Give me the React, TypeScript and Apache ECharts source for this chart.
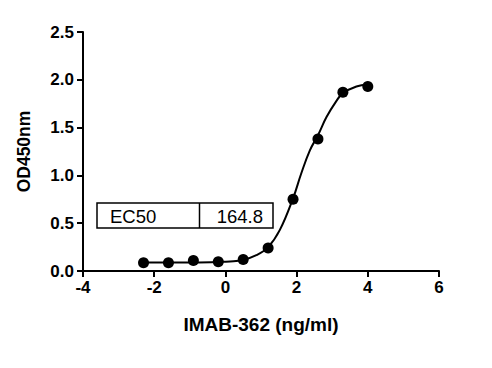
import React, { useEffect, useRef } from "react";
import * as echarts from "echarts";

const logConc = [-2.3, -1.6, -0.9, -0.2, 0.5, 1.2, 1.9, 2.6, 3.3, 4.0];
const odValues = [0.087, 0.087, 0.11, 0.097, 0.12, 0.24, 0.75, 1.38, 1.87, 1.93];

const curveX = [-2.3, -1.6, -0.9, -0.2, 0.13, 0.49, 0.87, 1.2, 1.53, 1.9, 2.13, 2.37, 2.6, 2.84, 3.12, 3.3, 3.68, 4.0];
const curveY = [0.088, 0.089, 0.09, 0.095, 0.1, 0.115, 0.165, 0.25, 0.43, 0.76, 1.02, 1.26, 1.42, 1.61, 1.78, 1.86, 1.93, 1.95];

const yTicks = ["0.0", "0.5", "1.0", "1.5", "2.0", "2.5"];
const ec50Label = "EC50";
const ec50Value = "164.8";

const FONT = "'Liberation Sans', Arial, sans-serif";

export default function App() {
  const ref = useRef<HTMLDivElement>(null);
  useEffect(() => {
    if (!ref.current) return;
    const chart = echarts.init(ref.current, null, { renderer: "svg" });
    chart.setOption({
      animation: false,
      backgroundColor: "#ffffff",
      grid: { left: 83, right: 53, top: 32, bottom: 97, containLabel: false },
      xAxis: {
        type: "value",
        min: -4,
        max: 6,
        interval: 2,
        name: "IMAB-362 (ng/ml)",
        nameLocation: "middle",
        nameGap: 44,
        nameTextStyle: { fontFamily: FONT, fontWeight: "bold", fontSize: 19, color: "#000" },
        axisLine: { onZero: false, lineStyle: { color: "#000", width: 2 } },
        axisTick: { show: true, length: 6, lineStyle: { color: "#000", width: 2 } },
        axisLabel: { fontFamily: FONT, fontWeight: "bold", fontSize: 17, color: "#000", margin: 8 },
        splitLine: { show: false },
      },
      yAxis: {
        type: "value",
        min: 0,
        max: 2.5,
        interval: 0.5,
        name: "OD450nm",
        nameLocation: "middle",
        nameGap: 50,
        nameTextStyle: { fontFamily: FONT, fontWeight: "bold", fontSize: 17.5, color: "#000" },
        axisLine: { show: true, onZero: false, lineStyle: { color: "#000", width: 2 } },
        axisTick: { show: true, length: 6, lineStyle: { color: "#000", width: 2 } },
        axisLabel: {
          fontFamily: FONT,
          fontWeight: "bold",
          fontSize: 17,
          color: "#000",
          margin: 9,
          formatter: (v: number) => yTicks[Math.round(v / 0.5)] ?? v.toFixed(1),
        },
        splitLine: { show: false },
      },
      series: [
        {
          type: "line",
          data: curveX.map((x, i) => [x, curveY[i]]),
          smooth: 0.4,
          showSymbol: false,
          symbol: "none",
          lineStyle: { color: "#000", width: 2 },
          z: 2,
        },
        {
          type: "scatter",
          data: logConc.map((x, i) => [x, odValues[i]]),
          symbol: "circle",
          symbolSize: 11,
          itemStyle: { color: "#000", opacity: 1 },
          z: 3,
        },
      ],
      graphic: [
        {
          type: "rect",
          shape: { x: 97, y: 203, width: 176, height: 25 },
          style: { fill: "#fff", stroke: "#000", lineWidth: 1.5 },
          z: 10,
        },
        {
          type: "line",
          shape: { x1: 199.5, y1: 203, x2: 199.5, y2: 228 },
          style: { stroke: "#000", lineWidth: 1.5 },
          z: 11,
        },
        {
          type: "text",
          x: 110,
          y: 216,
          style: { text: ec50Label, font: `18.5px ${FONT}`, fill: "#000", verticalAlign: "middle" },
          z: 12,
        },
        {
          type: "text",
          x: 263,
          y: 216,
          style: { text: ec50Value, font: `18.5px ${FONT}`, fill: "#000", align: "right", verticalAlign: "middle" },
          z: 12,
        },
      ],
    });
    return () => chart.dispose();
  }, []);
  return <div ref={ref} style={{ width: 492, height: 368, position: "absolute", left: 0, top: 0 }} />;
}
